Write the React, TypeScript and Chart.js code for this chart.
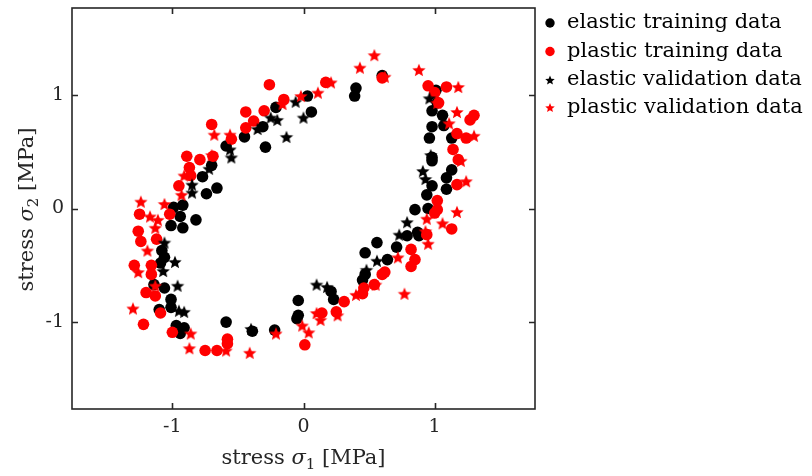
import React, { useEffect, useRef } from "react";
import { Chart, registerables } from "chart.js";

Chart.register(...registerables);

// ---------- data ----------
const elasticTrainX = [0.03, 0.06, -0.21, -0.31, -0.29, -0.45, -0.59, 0.40, 0.39, 0.60, -0.70, -0.77, -0.74, -0.66, -0.82, -0.92, -0.99, -1.01, -0.92, -0.94, -1.08, -1.06, -1.09, -1.14, -1.06, -1.01, -1.10, -1.01, -0.97, -0.91, -0.94, -0.59, -0.39, -0.22, -0.04, -0.04, -0.05, 0.21, 0.23, 0.47, 0.56, 0.45, 0.47, 0.64, 0.71, 0.79, 0.87, 0.88, 0.85, 0.95, 0.94, 0.98, 1.09, 1.09, 1.13, 0.98, 0.98, 0.96, 0.98, 0.98, 1.06, 1.07, 1.13, 1.01, 1.02];
const elasticTrainY = [0.99, 0.85, 0.89, 0.72, 0.54, 0.63, 0.55, 1.06, 0.99, 1.17, 0.38, 0.28, 0.13, 0.18, -0.10, 0.03, 0.01, -0.15, -0.17, -0.07, -0.37, -0.43, -0.48, -0.67, -0.70, -0.80, -0.89, -0.87, -1.03, -1.05, -1.10, -1.00, -1.08, -1.07, -0.81, -0.94, -0.97, -0.73, -0.80, -0.39, -0.30, -0.63, -0.58, -0.45, -0.34, -0.24, -0.21, -0.24, -0.01, 0.00, 0.12, 0.20, 0.17, 0.27, 0.34, 0.42, 0.45, 0.62, 0.72, 0.86, 0.82, 0.73, 0.62, 1.04, 0.93];

const plasticTrainX = [-0.26, -0.15, -0.30, -0.44, -0.38, -0.44, -0.70, -0.55, -0.69, -0.89, -0.79, -0.87, -0.86, -0.95, -1.02, -1.25, -1.26, -1.24, -1.12, -1.29, -1.16, -1.16, -1.20, -1.13, -1.09, -1.22, -1.00, -0.75, -0.66, -0.58, -0.58, 0.01, 0.14, 0.25, 0.31, 0.45, 0.54, 0.60, 0.82, 0.85, 0.82, 1.02, 1.02, 1.00, 1.13, 1.17, 1.14, 1.18, 1.17, 1.24, 1.27, 1.30, 1.09, 0.95, 1.00, 1.03, 0.60, 0.17, 0.94, 0.62, 0.46];
const plasticTrainY = [1.09, 0.96, 0.86, 0.85, 0.77, 0.71, 0.74, 0.61, 0.46, 0.46, 0.43, 0.36, 0.29, 0.20, -0.05, -0.05, -0.20, -0.29, -0.27, -0.50, -0.50, -0.58, -0.74, -0.77, -0.92, -1.02, -1.09, -1.25, -1.25, -1.19, -1.15, -1.20, -0.92, -0.91, -0.82, -0.75, -0.67, -0.58, -0.36, -0.45, -0.51, 0.07, -0.01, -0.04, -0.18, 0.21, 0.52, 0.43, 0.66, 0.62, 0.78, 0.82, 1.07, 1.08, 1.02, 0.93, 1.15, 1.11, -0.23, -0.56, -0.70];

const elasticValX = [-0.06, 0.00, -0.13, -0.20, -0.25, -0.35, -0.56, -0.55, -0.72, -0.85, -0.85, -1.06, -0.98, -1.07, -0.96, -0.95, -0.91, -0.40, 0.10, 0.18, 0.48, 0.56, 0.73, 0.79, 0.91, 0.93, 0.97, 0.96];
const elasticValY = [0.94, 0.80, 0.63, 0.78, 0.80, 0.70, 0.52, 0.45, 0.35, 0.21, 0.14, -0.30, -0.47, -0.55, -0.68, -0.90, -0.91, -1.06, -0.67, -0.69, -0.54, -0.46, -0.23, -0.12, 0.33, 0.26, 0.47, 0.97];

const plasticValX = [0.54, 0.43, 0.88, 0.62, 0.21, 0.11, -0.02, -0.16, -0.68, -0.56, -0.70, -0.91, -0.93, -1.06, -1.24, -1.17, -1.11, -1.13, -1.19, -1.26, -1.13, -1.30, -0.86, -0.87, -0.59, -0.41, -0.21, -0.01, 0.04, 0.10, 0.13, 0.26, 0.40, 0.55, 0.77, 0.72, 0.95, 0.93, 1.06, 1.17, 0.94, 1.24, 1.20, 1.30, 1.17, 1.18, 1.02, 1.11];
const plasticValY = [1.35, 1.24, 1.22, 1.16, 1.11, 1.02, 0.99, 0.92, 0.65, 0.65, 0.47, 0.29, 0.12, 0.04, 0.06, -0.07, -0.10, -0.17, -0.37, -0.56, -0.68, -0.88, -1.10, -1.23, -1.25, -1.27, -1.10, -1.03, -1.09, -0.92, -0.98, -0.94, -0.76, -0.67, -0.75, -0.43, -0.31, -0.20, -0.13, -0.03, -0.09, 0.24, 0.42, 0.64, 0.85, 1.07, 0.93, 0.75];

const xTickValues = [-1, 0, 1];
const yTickValues = [-1, 0, 1];
const axisMin = -1.765;
const axisMax = 1.765;

const legendLabels = [
  "elastic training data",
  "plastic training data",
  "elastic validation data",
  "plastic validation data",
];
const seriesColors = ["#000000", "#ff0000", "#000000", "#ff0000"];
const seriesShapes = ["circle", "circle", "star", "star"];

const xTitleParts = ["stress ", "σ", "1", " [MPa]"];
const yTitleParts = ["stress ", "σ", "2", " [MPa]"];

// ---------- helpers ----------
const FONT = "'DejaVu Serif', serif";
const AXIS_COLOR = "#262626";

function starPath(ctx: CanvasRenderingContext2D, cx: number, cy: number, r: number) {
  const ri = r * 0.45;
  ctx.beginPath();
  for (let i = 0; i < 10; i++) {
    const rad = i % 2 === 0 ? r : ri;
    const a = -Math.PI / 2 + (i * Math.PI) / 5;
    const px = cx + rad * Math.cos(a);
    const py = cy + rad * Math.sin(a);
    if (i === 0) ctx.moveTo(px, py);
    else ctx.lineTo(px, py);
  }
  ctx.closePath();
}

function makeStar(color: string, r: number): HTMLCanvasElement {
  const size = Math.ceil(r * 2 + 2);
  const c = document.createElement("canvas");
  c.width = size;
  c.height = size;
  const ctx = c.getContext("2d")!;
  starPath(ctx, size / 2, size / 2 + r * 0.1, r);
  ctx.fillStyle = color;
  ctx.fill();
  return c;
}

function toPoints(xs: number[], ys: number[]) {
  return xs.map((x, i) => ({ x, y: ys[i] }));
}

function drawTitle(ctx: CanvasRenderingContext2D, parts: string[], size: number) {
  const normal = `${size}px ${FONT}`;
  const italic = `italic ${size}px ${FONT}`;
  const sub = `${Math.round(size * 0.7)}px ${FONT}`;
  const fonts = [normal, italic, sub, normal];
  const offs = [0, 0, size * 0.25, 0];
  let total = 0;
  const widths = parts.map((p, i) => {
    ctx.font = fonts[i];
    const w = ctx.measureText(p).width;
    total += w;
    return w;
  });
  let x = -total / 2;
  ctx.textAlign = "left";
  ctx.textBaseline = "alphabetic";
  parts.forEach((p, i) => {
    ctx.font = fonts[i];
    ctx.fillText(p, x, offs[i]);
    x += widths[i];
  });
}

const framePlugin = {
  id: "frameBox",
  afterDatasetsDraw(chart: any) {
    const { ctx, chartArea } = chart;
    const { left, right, top, bottom } = chartArea;
    const xs = chart.scales.x;
    const ys = chart.scales.y;
    ctx.save();
    ctx.strokeStyle = AXIS_COLOR;
    ctx.lineWidth = 1.6;
    ctx.strokeRect(left, top, right - left, bottom - top);
    const tl = 6;
    ctx.beginPath();
    xTickValues.forEach((v) => {
      const px = Math.round(xs.getPixelForValue(v)) + 0.5;
      ctx.moveTo(px, bottom);
      ctx.lineTo(px, bottom - tl);
      ctx.moveTo(px, top);
      ctx.lineTo(px, top + tl);
    });
    yTickValues.forEach((v) => {
      const py = Math.round(ys.getPixelForValue(v)) + 0.5;
      ctx.moveTo(left, py);
      ctx.lineTo(left + tl, py);
      ctx.moveTo(right, py);
      ctx.lineTo(right - tl, py);
    });
    ctx.stroke();
    ctx.restore();
  },
  afterDraw(chart: any) {
    const { ctx, chartArea } = chart;
    const { left, right, top, bottom } = chartArea;
    ctx.save();
    ctx.fillStyle = AXIS_COLOR;
    // x title
    ctx.save();
    ctx.translate((left + right) / 2, 464);
    drawTitle(ctx, xTitleParts, 21);
    ctx.restore();
    // y title
    ctx.save();
    ctx.translate(33, (top + bottom) / 2 + 1);
    ctx.rotate(-Math.PI / 2);
    drawTitle(ctx, yTitleParts, 21);
    ctx.restore();

    // legend
    const lx = right + 15;
    const rows = [23, 51.5, 80, 107.5];
    legendLabels.forEach((label, i) => {
      const cy = rows[i];
      ctx.fillStyle = seriesColors[i];
      if (seriesShapes[i] === "circle") {
        ctx.beginPath();
        ctx.arc(lx, cy, 4.7, 0, Math.PI * 2);
        ctx.fill();
      } else {
        starPath(ctx, lx, cy + 0.5, 5);
        ctx.fill();
      }
      ctx.fillStyle = "#000000";
      ctx.font = `21px ${FONT}`;
      ctx.textAlign = "left";
      ctx.textBaseline = "middle";
      ctx.fillText(label, lx + 17, cy);
    });
    ctx.restore();
  },
};

export default function App() {
  const canvasRef = useRef<HTMLCanvasElement | null>(null);

  useEffect(() => {
    const canvas = canvasRef.current;
    if (!canvas) return;
    const starBlack = makeStar("#000000", 7);
    const starRed = makeStar("#ff0000", 7);

    const chart = new Chart(canvas, {
      type: "scatter",
      data: {
        datasets: [
          {
            label: legendLabels[0],
            data: toPoints(elasticTrainX, elasticTrainY),
            pointStyle: "circle",
            pointRadius: 5.8,
            backgroundColor: seriesColors[0],
            borderColor: seriesColors[0],
            borderWidth: 0,
            order: 4,
          },
          {
            label: legendLabels[1],
            data: toPoints(plasticTrainX, plasticTrainY),
            pointStyle: "circle",
            pointRadius: 5.8,
            backgroundColor: seriesColors[1],
            borderColor: seriesColors[1],
            borderWidth: 0,
            order: 3,
          },
          {
            label: legendLabels[2],
            data: toPoints(elasticValX, elasticValY),
            pointStyle: starBlack,
            pointRadius: 7,
            backgroundColor: seriesColors[2],
            borderColor: seriesColors[2],
            order: 2,
          },
          {
            label: legendLabels[3],
            data: toPoints(plasticValX, plasticValY),
            pointStyle: starRed,
            pointRadius: 7,
            backgroundColor: seriesColors[3],
            borderColor: seriesColors[3],
            order: 1,
          },
        ],
      },
      options: {
        responsive: false,
        animation: false,
        devicePixelRatio: 1,
        layout: { padding: { left: 0, right: 277, top: 4, bottom: 0 } },
        plugins: {
          legend: { display: false },
          tooltip: { enabled: false },
        },
        scales: {
          x: {
            type: "linear",
            min: axisMin,
            max: axisMax,
            grid: { display: false, drawTicks: false },
            border: { display: false },
            ticks: {
              color: AXIS_COLOR,
              font: { family: FONT, size: 19 },
              padding: 7,
              callback: (v: any) => String(v),
            },
            afterBuildTicks: (scale: any) => {
              scale.ticks = xTickValues.map((v) => ({ value: v }));
            },
            afterFit: (scale: any) => {
              scale.height = 67;
              scale.paddingLeft = 0;
              scale.paddingRight = 0;
            },
          },
          y: {
            type: "linear",
            min: axisMin,
            max: axisMax,
            grid: { display: false, drawTicks: false },
            border: { display: false },
            ticks: {
              color: AXIS_COLOR,
              font: { family: FONT, size: 19 },
              padding: 8,
              callback: (v: any) => String(v),
            },
            afterBuildTicks: (scale: any) => {
              scale.ticks = yTickValues.map((v) => ({ value: v }));
            },
            afterFit: (scale: any) => {
              scale.width = 72;
              scale.paddingTop = 0;
              scale.paddingBottom = 0;
            },
          },
        },
      },
      plugins: [framePlugin],
    } as any);

    return () => {
      chart.destroy();
    };
  }, []);

  return (
    <div style={{ position: "fixed", left: 0, top: 0, width: 812, height: 476, background: "#ffffff" }}>
      <canvas ref={canvasRef} width={812} height={476} style={{ width: 812, height: 476, display: "block" }} />
    </div>
  );
}
